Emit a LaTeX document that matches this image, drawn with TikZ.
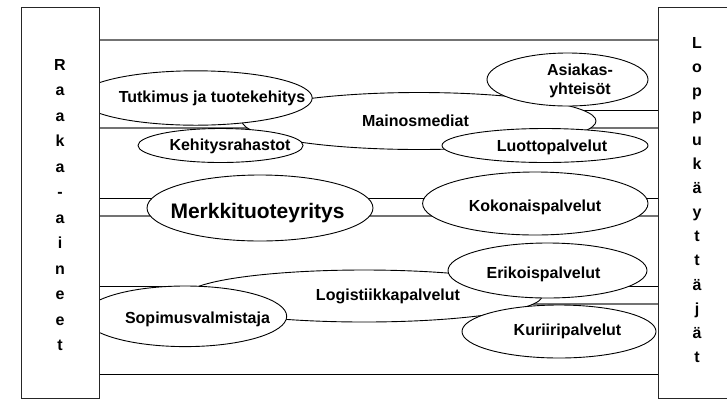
\documentclass[tikz,border=0pt]{standalone}
\usepackage{fontspec}
\setmainfont{Liberation Sans}
\usetikzlibrary{shapes.geometric}

\begin{document}
\begin{tikzpicture}[x=1bp,y=-1bp,
  band/.style={line width=0.8bp, black},
  softband/.style={line width=1.2bp, black!55},
  sidebox/.style={draw=black!85, line width=1bp, fill=white, inner sep=0pt},
  oval/.style={ellipse, draw, fill=white, line width=0.9bp, inner sep=0pt},
  lbl/.style={font=\fontsize{16bp}{19bp}\selectfont\bfseries, inner sep=0pt,
              text height=11.5bp, text depth=0bp},
  twolbl/.style={font=\fontsize{16bp}{19bp}\selectfont\bfseries, inner sep=0pt, align=center},
  biglbl/.style={font=\fontsize{21bp}{24bp}\selectfont\bfseries, inner sep=0pt,
              text height=15bp, text depth=0bp},
  letter/.style={font=\fontsize{16bp}{16bp}\selectfont\bfseries, inner sep=0pt, anchor=base}]

\clip (0,0) rectangle (727,400);
\fill[white] (0,0) rectangle (727,400);

% horizontal bands between the two columns
\draw[softband] (99,40)  -- (658,40);
\draw[band]     (99,110) -- (658,110);
\draw[softband] (99,128) -- (658,128);
\draw[band]     (99,198) -- (658,198);
\draw[softband] (99,216) -- (658,216);
\draw[band]     (99,286) -- (658,286);
\draw[softband] (99,304) -- (658,304);
\draw[band]     (99,374) -- (658,374);

% upper group
\node[oval, minimum width=354bp, minimum height=57bp] (mainos) at (419,121) {};
\node[lbl] (mainos-t) at (415.5,121) {Mainosmediat};
\node[oval, minimum width=233bp, minimum height=54.4bp] (tutkimus) at (195.7,98) {};
\node[lbl] (tutkimus-t) at (212,97) {Tutkimus ja tuotekehitys};
\node[oval, minimum width=165bp, minimum height=34bp] (kehitys) at (220.5,145.5) {};
\node[lbl] (kehitys-t) at (230,145) {Kehitysrahastot};
\node[oval, minimum width=161bp, minimum height=53bp] (asiakas) at (567.5,79.5) {};
\node[twolbl] (asiakas-t) at (580,80.5) {Asiakas-\\yhteisöt};
\node[oval, minimum width=206bp, minimum height=34bp] (luotto) at (545,145.5) {};
\node[lbl] (luotto-t) at (552,145.5) {Luottopalvelut};

% middle group
\node[oval, minimum width=226bp, minimum height=66bp] (merkki) at (260,208) {};
\node[biglbl] (merkki-t) at (257.5,210.5) {Merkkituoteyritys};
\node[oval, minimum width=225.4bp, minimum height=63bp] (kokonais) at (535.3,203.5) {};
\node[lbl] (kokonais-t) at (535,206) {Kokonaispalvelut};

% lower group
\node[oval, minimum width=356bp, minimum height=52bp] (logistiikka) at (364,296) {};
\node[lbl] (logistiikka-t) at (388,295) {Logistiikkapalvelut};
\node[oval, minimum width=203bp, minimum height=60.6bp] (sopimus) at (185.2,316.3) {};
\node[lbl] (sopimus-t) at (197.5,317.5) {Sopimusvalmistaja};
\node[oval, minimum width=199bp, minimum height=55bp] (erikois) at (547.5,270.5) {};
\node[lbl] (erikois-t) at (543.5,272.7) {Erikoispalvelut};
\node[oval, minimum width=194bp, minimum height=53bp] (kuriiri) at (559,331.5) {};
\node[lbl] (kuriiri-t) at (567.5,330) {Kuriiripalvelut};

% side columns
\node[sidebox, minimum width=78bp, minimum height=391bp, anchor=north west] (raaka) at (21,7) {};
\node[sidebox, minimum width=78bp, minimum height=391bp, anchor=north west] (loppu) at (658,7) {};

\foreach \ch [count=\i from 0] in {R,a,a,k,a,-,a,i,n,e,e,t}
  \node[letter] (raaka-\i) at (60,{70+25.5*\i}) {\ch};
\foreach \ch [count=\i from 0] in {L,o,p,p,u,k,ä,y,t,t,ä,j,ä,t}
  \node[letter] (loppu-\i) at (697,{48.5+24.15*\i}) {\ch};
\end{tikzpicture}
\end{document}
